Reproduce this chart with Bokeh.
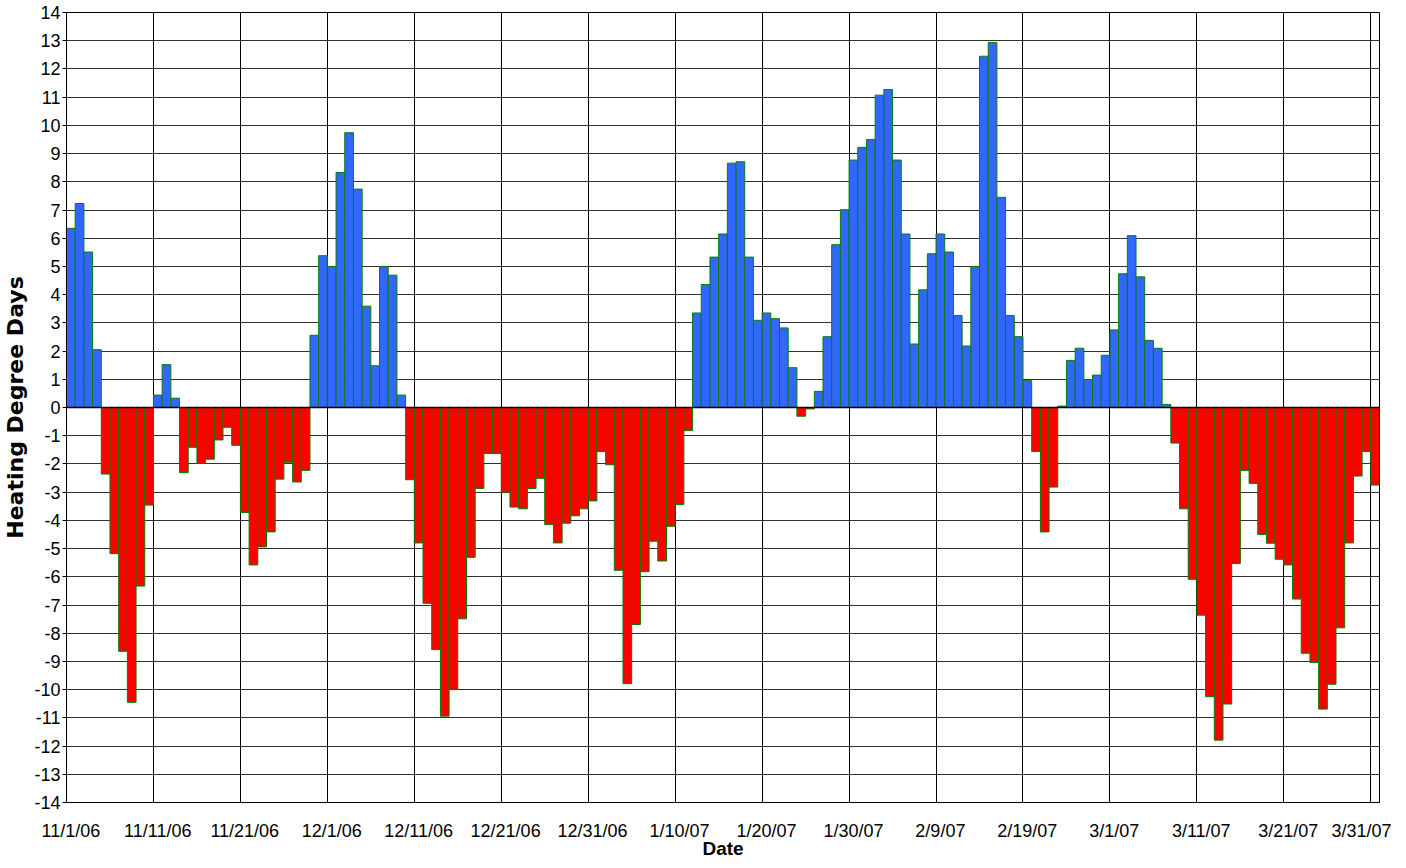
import numpy as np
import pandas as pd
from bokeh.plotting import figure
from bokeh.models import ColumnDataSource, Range1d, FixedTicker, Span
from bokeh.embed import file_html
from bokeh.resources import INLINE

# ---- data -------------------------------------------------------------
start_date = "2006-11-01"
end_date = "2007-03-31"

# daily heating degree day departure (one value per day, 11/1/06 .. 3/31/07)
hdd = [
    6.35, 7.23, 5.51, 2.05, -2.36, -5.18, -8.64, -10.45, -6.33, -3.46,
    0.44, 1.52, 0.33, -2.31, -1.41, -1.98, -1.83, -1.15, -0.70, -1.34,
    -3.72, -5.58, -4.94, -4.41, -2.54, -1.94, -2.64, -2.23, 2.56, 5.38,
    5.00, 8.33, 9.74, 7.74, 3.59, 1.48, 5.00, 4.69, 0.44, -2.56,
    -4.80, -6.94, -8.58, -10.94, -9.99, -7.49, -5.31, -2.87, -1.63, -1.63,
    -3.00, -3.53, -3.59, -2.87, -2.51, -4.15, -4.80, -4.10, -3.84, -3.59,
    -3.31, -1.56, -2.03, -5.77, -9.79, -7.69, -5.82, -4.74, -5.44, -4.21,
    -3.44, -0.82, 3.35, 4.36, 5.33, 6.15, 8.66, 8.71, 5.33, 3.09,
    3.35, 3.15, 2.82, 1.41, -0.31, -0.05, 0.57, 2.51, 5.77, 7.01,
    8.77, 9.22, 9.50, 11.07, 11.27, 8.77, 6.15, 2.25, 4.17, 5.45,
    6.15, 5.51, 3.26, 2.18, 5.00, 12.45, 12.94, 7.45, 3.26, 2.51,
    0.95, -1.56, -4.41, -2.82, 0.05, 1.67, 2.10, 0.99, 1.15, 1.85,
    2.75, 4.74, 6.09, 4.63, 2.38, 2.10, 0.11, -1.26, -3.59, -6.09,
    -7.36, -10.25, -11.79, -10.51, -5.53, -2.23, -2.69, -4.50, -4.81, -5.38,
    -5.58, -6.79, -8.71, -9.04, -10.69, -9.81, -7.81, -4.80, -2.43, -1.56,
    -2.75,
]

tick_labels = [
    "11/1/06", "11/11/06", "11/21/06", "12/1/06", "12/11/06", "12/21/06",
    "12/31/06", "1/10/07", "1/20/07", "1/30/07", "2/9/07", "2/19/07",
    "3/1/07", "3/11/07", "3/21/07", "3/31/07",
]
y_ticks = list(range(-14, 15))

x_title = "Date"
y_title = "Heating Degree Days"

# ---- build ------------------------------------------------------------
dates = pd.date_range(start_date, end_date, freq="D")
day = np.arange(len(dates))
date_labels = [f"{d.month}/{d.day}/{d.strftime('%y')}" for d in dates]
colors = ["#3366FF" if v >= 0 else "#FF0000" for v in hdd]
src = ColumnDataSource(dict(day=day, hdd=hdd, color=colors))

tick_pos = [date_labels.index(t) for t in tick_labels]

x0, x1 = -0.5, len(dates) - 0.5
y0, y1 = y_ticks[0], y_ticks[-1]

p = figure(
    frame_width=1313, frame_height=790,
    output_backend="svg", toolbar_location=None,
    x_range=Range1d(x0, x1),
    y_range=Range1d(y0, y1),
    min_border_left=65, min_border_right=12,
    min_border_top=12, min_border_bottom=48,
)
p.background_fill_color = "white"
p.border_fill_color = "white"
p.outline_line_color = "black"
p.outline_line_width = 1

p.vbar(x="day", top="hdd", bottom=0, width=1.0, source=src,
       fill_color="color", line_color="#008000", line_width=1)

p.add_layout(Span(location=0, dimension="width", line_color="black", line_width=1.5))

# grids
p.ygrid.ticker = FixedTicker(ticks=y_ticks)
p.ygrid.grid_line_color = "#303030"
p.ygrid.grid_line_width = 1
p.xgrid.ticker = FixedTicker(ticks=[t - 0.5 for t in tick_pos[1:]])
p.xgrid.grid_line_color = "black"
p.xgrid.grid_line_width = 1

# x axis
p.xaxis.ticker = FixedTicker(ticks=tick_pos)
p.xaxis.major_label_overrides = {pos: lab for pos, lab in zip(tick_pos, tick_labels)}
p.xaxis.major_tick_line_color = None
p.xaxis.minor_tick_line_color = None
p.xaxis.axis_line_color = "black"
p.xaxis.major_label_text_font = "Liberation Sans"
p.xaxis.major_label_text_font_size = "18px"
p.xaxis.major_label_text_color = "black"
p.xaxis.major_label_standoff = 12
p.xaxis.axis_label = x_title
p.xaxis.axis_label_text_font = "Liberation Sans"
p.xaxis.axis_label_text_font_style = "bold"
p.xaxis.axis_label_text_font_size = "19px"
p.xaxis.axis_label_text_color = "black"
p.xaxis.axis_label_standoff = -6

# y axis
p.yaxis.ticker = FixedTicker(ticks=y_ticks)
p.yaxis.major_label_overrides = {v: str(v) for v in y_ticks}
p.yaxis.major_tick_out = 4
p.yaxis.major_tick_in = 0
p.yaxis.major_tick_line_color = "black"
p.yaxis.minor_tick_line_color = None
p.yaxis.axis_line_color = "black"
p.yaxis.major_label_text_font = "Liberation Sans"
p.yaxis.major_label_text_font_size = "18px"
p.yaxis.major_label_text_color = "black"
p.yaxis.major_label_standoff = 2
p.yaxis.axis_label = y_title
p.yaxis.axis_label_text_font = "DejaVu Sans"
p.yaxis.axis_label_text_font_style = "bold"
p.yaxis.axis_label_text_font_size = "22px"
p.yaxis.axis_label_text_color = "black"
p.yaxis.axis_label_standoff = 3

open("out.html", "w").write(file_html(p, INLINE))
